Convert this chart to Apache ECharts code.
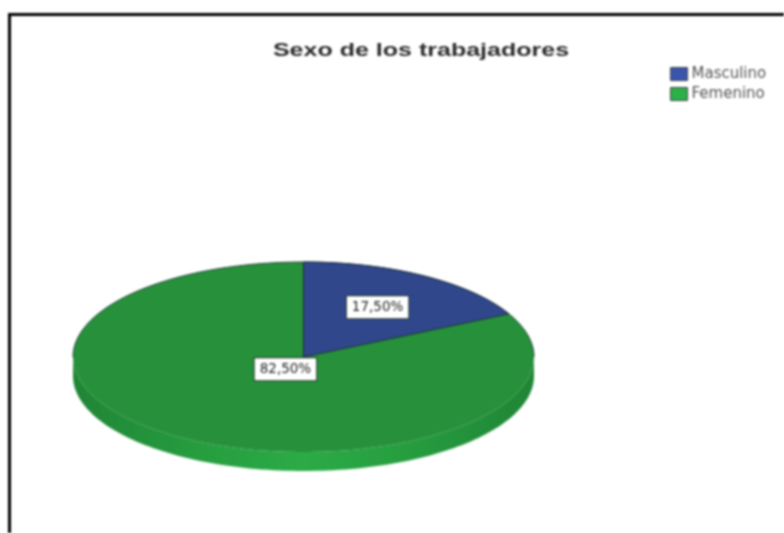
<!DOCTYPE html>
<html>
<head>
<meta charset="utf-8">
<style>
html,body{margin:0;padding:0;background:#fff;}
#chart{width:784px;height:533px;filter:blur(0.8px);}
</style>
<script src="https://cdn.jsdelivr.net/npm/echarts@6/dist/echarts.min.js"></script>
</head>
<body>
<div id="chart"></div>
<script>
var categories = ['Masculino', 'Femenino'];
var percentValues = [17.5, 82.5];
var percentLabels = ['17,50%', '82,50%'];
var titleText = 'Sexo de los trabajadores';

var faceColors = ['#30478c', '#26913a'];
var legendColors = ['#3a55ad', '#2cb04a'];
var labelRadius = [0.615, 0.15];
var CX = 303.5, CY = 357, RX = 230.5, RY = 95, DEPTH = 19;

function pt(frac, r) {
  var a = frac * 2 * Math.PI;
  return [CX + RX * r * Math.sin(a), CY - RY * r * Math.cos(a)];
}
var total = percentValues.reduce(function (s, v) { return s + v; }, 0);

function makeSeries(idx) {
  return {
    type: 'custom',
    name: categories[idx],
    coordinateSystem: 'none',
    itemStyle: { color: legendColors[idx] },
    silent: true,
    data: [[percentValues[idx]]],
    z: idx === 0 ? 3 : 2,
    renderItem: function (params, api) {
      var start = 0;
      for (var i = 0; i < idx; i++) start += percentValues[i] / total;
      var span = api.value(0) / total;
      var pts = [[CX, CY]];
      var n = Math.max(2, Math.ceil(span * 240));
      for (var k = 0; k <= n; k++) pts.push(pt(start + span * k / n, 1));
      var children = [];
      if (idx === 1) {
        var wall = [];
        for (var w = 0; w <= 120; w++) {
          var a = Math.PI / 2 + Math.PI * w / 120;
          wall.push([CX + RX * Math.sin(a), CY - RY * Math.cos(a)]);
        }
        for (var w2 = 120; w2 >= 0; w2--) {
          var b = Math.PI / 2 + Math.PI * w2 / 120;
          wall.push([CX + RX * Math.sin(b), CY - RY * Math.cos(b) + DEPTH]);
        }
        children.push({
          type: 'polygon',
          shape: { points: wall },
          style: {
            fill: new echarts.graphic.LinearGradient(0, 0, 1, 0, [
              { offset: 0, color: '#1f8536' },
              { offset: 0.3, color: '#279f40' },
              { offset: 0.5, color: '#2bab46' },
              { offset: 0.7, color: '#279f40' },
              { offset: 1, color: '#1f8536' }
            ])
          }
        });
      }
      children.push({
        type: 'polygon',
        shape: { points: pts },
        style: idx === 0
          ? { fill: faceColors[idx], stroke: 'rgba(18,35,50,0.9)', lineWidth: 1 }
          : { fill: faceColors[idx] }
      });
      if (idx === 1) {
        var rim = [];
        for (var r = -60; r <= 60; r++) rim.push(pt(r / 240, 1));
        children.push({
          type: 'polyline',
          shape: { points: rim },
          style: { fill: 'none', stroke: 'rgba(18,45,40,0.85)', lineWidth: 1 }
        });
      }
      var lp = pt(start + span / 2, labelRadius[idx]);
      children.push({
        type: 'text',
        z2: 10,
        style: {
          x: lp[0], y: lp[1],
          text: percentLabels[idx],
          align: 'center', verticalAlign: 'middle',
          fill: '#222',
          font: '13.5px "DejaVu Sans", sans-serif',
          backgroundColor: '#fff',
          borderColor: '#26332b',
          borderWidth: 1,
          padding: [4, 5]
        }
      });
      return { type: 'group', children: children };
    }
  };
}

var chart = echarts.init(document.getElementById('chart'), null, { renderer: 'canvas' });
chart.setOption({
  animation: false,
  backgroundColor: '#fff',
  legend: {
    left: 670, top: 66.5, orient: 'vertical',
    itemWidth: 17, itemHeight: 13, itemGap: 5,
    padding: 0,
    selectedMode: false,
    icon: 'rect',
    textStyle: { fontFamily: 'DejaVu Sans', fontSize: 15, color: '#555', padding: [3, 0, 0, -1] },
    data: categories.map(function (c, i) {
      return { name: c, itemStyle: { color: legendColors[i], borderColor: '#444', borderWidth: 1 } };
    })
  },
  graphic: [
    { type: 'line', shape: { x1: 8, y1: 14.5, x2: 784, y2: 14.5 }, style: { stroke: '#000', lineWidth: 3 } },
    { type: 'line', shape: { x1: 9.5, y1: 14, x2: 9.5, y2: 533 }, style: { stroke: '#000', lineWidth: 3 } },
    {
      type: 'text', x: 421, y: 51.5, scaleX: 1.39, scaleY: 1,
      style: {
        text: titleText, align: 'center', verticalAlign: 'middle',
        font: 'bold 18px "Liberation Sans", Arial, sans-serif', fill: '#2b2b2b'
      }
    }
  ],
  series: [makeSeries(0), makeSeries(1)]
});
</script>
</body>
</html>
